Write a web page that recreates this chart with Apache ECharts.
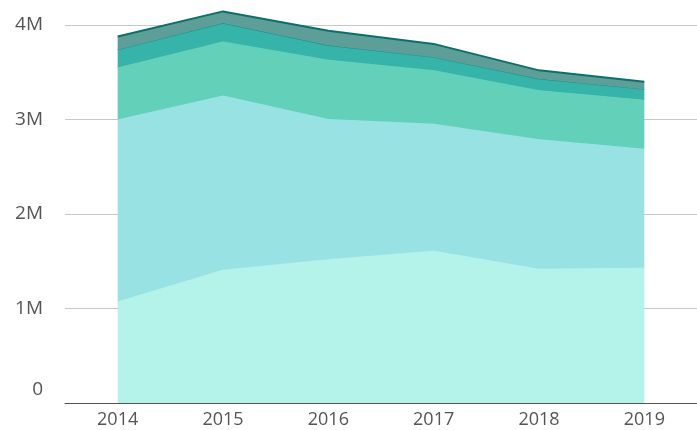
<!DOCTYPE html>
<html lang="en" style="height: 100%">
<head>
  <meta charset="utf-8">
</head>
<body style="height: 100%; margin: 0">
  <div id="container" style="height: 100%"></div>
  <script type="text/javascript" src="https://fastly.jsdelivr.net/npm/echarts@6.0.0/dist/echarts.min.js"></script>
  <script type="text/javascript">
    // data (values in units)
    var years = ['2014', '2015', '2016', '2017', '2018', '2019'];
    var layer1 = [1075000, 1410000, 1520000, 1610000, 1420000, 1430000];
    var layer2 = [1925000, 1845000, 1485000, 1345000, 1370000, 1260000];
    var layer3 = [551000, 571000, 628000, 565000, 520000, 520000];
    var layer4 = [188000, 194000, 152000, 140000, 120000, 110000];
    var layer5 = [140000, 124000, 155000, 140000, 90000, 80000];

    var areaColors = ['#b3f3e9', '#98e2e4', '#63d0b9', '#37b4aa', '#5e9e98'];
    var lineColors = ['#b3f3e9', '#98e2e4', '#63d0b9', '#1f968d', '#0d6f6a'];
    var lineWidths = [1, 1, 1, 1.2, 2];
    var layers = [layer1, layer2, layer3, layer4, layer5];

    var dom = document.getElementById('container');
    var myChart = echarts.init(dom, null, { renderer: 'canvas' });

    var series = layers.map(function (d, i) {
      return {
        name: 'layer' + (i + 1),
        type: 'line',
        stack: 'total',
        data: d,
        symbol: 'none',
        clip: false,
        z: 2 + i,
        lineStyle: { color: lineColors[i], width: lineWidths[i] },
        areaStyle: { color: areaColors[i], opacity: 1 }
      };
    });

    var option = {
      animation: false,
      grid: { left: 65, right: 0, top: 25, bottom: 27 },
      xAxis: {
        type: 'category',
        data: years,
        boundaryGap: true,
        axisLine: { lineStyle: { color: '#555', width: 1 } },
        axisTick: { show: false },
        axisLabel: {
          color: '#555',
          fontSize: 18,
          fontFamily: 'Open Sans',
          margin: 8
        }
      },
      yAxis: {
        type: 'value',
        min: 0,
        max: 4000000,
        interval: 1000000,
        axisLine: { show: false },
        axisTick: { show: false },
        splitLine: { lineStyle: { color: '#c8c8c8', width: 1 } },
        axisLabel: {
          color: '#555',
          fontSize: 19,
          fontFamily: 'Open Sans',
          margin: 22,
          formatter: function (v) {
            if (v === 0) return '{z|0}';
            return (v / 1000000) + 'M';
          },
          rich: {
            z: { color: '#555', fontSize: 19, fontFamily: 'Open Sans', padding: [0, 0, 26, 0] }
          }
        }
      },
      series: series
    };

    myChart.setOption(option);
    window.addEventListener('resize', myChart.resize);
  </script>
</body>
</html>
